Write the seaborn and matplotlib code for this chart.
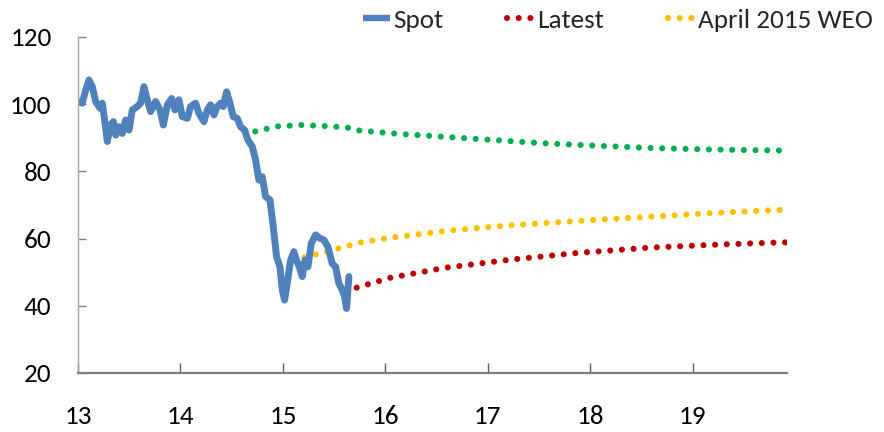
import matplotlib
matplotlib.use("Agg")
import matplotlib.pyplot as plt
from matplotlib import font_manager
import seaborn as sns
import pandas as pd
from matplotlib.lines import Line2D

# ---- data (x in two-digit years, fractional) ----
spot_x = [13.00, 13.042, 13.075, 13.107, 13.140, 13.172, 13.215, 13.237, 13.260, 13.286,
          13.319, 13.345, 13.368, 13.400, 13.433, 13.465, 13.498, 13.530, 13.579, 13.611,
          13.644, 13.676, 13.709, 13.758, 13.800, 13.833, 13.872, 13.914, 13.946, 13.985,
          14.018, 14.067, 14.099, 14.148, 14.180, 14.229, 14.262, 14.294, 14.327, 14.359,
          14.392, 14.418, 14.450, 14.483, 14.515, 14.554, 14.587, 14.626, 14.659, 14.701,
          14.733, 14.766, 14.798, 14.831, 14.873, 14.906, 14.938, 14.971, 14.994, 15.016,
          15.042, 15.075, 15.107, 15.133, 15.159, 15.189, 15.215, 15.244, 15.277, 15.319,
          15.361, 15.400, 15.439, 15.481, 15.514, 15.546, 15.579, 15.602, 15.621, 15.634,
          15.644]
spot_y = [100.8, 100.3, 104.2, 107.2, 105.2, 100.8, 98.8, 100.3, 95.3, 88.9,
          93.8, 94.8, 90.8, 93.3, 91.3, 95.3, 92.3, 98.3, 99.3, 100.3,
          105.2, 101.3, 97.8, 100.8, 98.3, 93.8, 99.8, 101.7, 98.3, 101.3,
          96.3, 95.8, 99.3, 100.3, 97.3, 94.8, 98.3, 99.8, 96.8, 99.3,
          100.3, 99.3, 103.7, 100.3, 96.3, 95.8, 93.3, 92.3, 89.3, 87.4,
          83.4, 77.4, 78.4, 72.5, 71.5, 63.5, 54.6, 51.6, 44.7, 41.7,
          46.7, 53.6, 56.1, 53.6, 51.6, 48.7, 53.6, 51.6, 58.6, 61.1,
          60.1, 59.6, 57.6, 52.6, 51.6, 46.7, 44.7, 42.7, 39.2, 44.7,
          48.7]

green_x = [14.73, 14.95, 15.18, 15.40, 15.62, 15.74, 16.07, 16.52, 16.97, 17.53,
           18.09, 18.65, 19.21, 19.92]
green_y = [91.9, 93.4, 93.8, 93.5, 93.1, 92.2, 91.3, 90.4, 89.5, 88.4,
           87.6, 86.9, 86.5, 86.2]

latest_x = [15.72, 16.04, 16.58, 17.24, 17.90, 18.57, 19.23, 19.79, 19.92]
latest_y = [45.4, 48.3, 51.3, 53.8, 55.8, 57.3, 58.2, 58.8, 58.9]

weo_x = [15.21, 15.42, 15.53, 15.75, 16.08, 16.63, 17.19, 17.85, 18.52, 19.18, 19.74, 19.92]
weo_y = [54.4, 56.1, 57.0, 58.8, 60.4, 62.4, 63.9, 65.2, 66.4, 67.6, 68.4, 68.6]

x_ticks = [13, 14, 15, 16, 17, 18, 19]
y_ticks = [20, 40, 60, 80, 100, 120]
labels = ["Spot", "Latest", "April 2015 WEO"]

# ---- style ----
sns.set_theme(style="white")
available = {f.name for f in font_manager.fontManager.ttflist}
narrow = None
for cand in ["Liberation Sans Narrow", "Carlito", "Roboto Condensed", "Open Sans Condensed"]:
    if cand in available:
        narrow = cand
        break
if narrow is not None:
    plt.rcParams["font.family"] = [narrow, "DejaVu Sans"]
    FS = 19.5
else:
    plt.rcParams["font.family"] = ["Liberation Sans", "DejaVu Sans"]
    FS = 17.5

BLUE = "#4F81BD"
GREEN = "#00B050"
RED = "#C00000"
YELLOW = "#FFC000"

fig = plt.figure(figsize=(8.84, 4.32), dpi=100)
ax = fig.add_axes([78 / 884, 1 - 373 / 432, (787 - 78) / 884, (373 - 37) / 432])

DOT_LW = 4.4
dot_style = (0, (0.01, 1.9))

def dotted(xs, ys, color):
    df = pd.DataFrame({"x": xs, "y": ys})
    sns.lineplot(data=df, x="x", y="y", ax=ax, color=color, linewidth=DOT_LW,
                 sort=False, estimator=None, legend=False)
    ln = ax.lines[-1]
    ln.set_linestyle(dot_style)
    ln.set_dash_capstyle("round")
    return ln

dotted(green_x, green_y, GREEN)
dotted(weo_x, weo_y, YELLOW)
dotted(latest_x, latest_y, RED)

spot_df = pd.DataFrame({"x": spot_x, "y": spot_y})
sns.lineplot(data=spot_df, x="x", y="y", ax=ax, color=BLUE, linewidth=5.0,
             sort=False, estimator=None, legend=False)
ax.lines[-1].set_solid_joinstyle("round")
ax.lines[-1].set_solid_capstyle("round")

ax.set_xlim(13, 19.92)
ax.set_ylim(20, 120)
ax.set_xticks(x_ticks)
ax.set_xticklabels([str(t) for t in x_ticks])
ax.set_yticks(y_ticks)
ax.set_yticklabels([str(t) for t in y_ticks])
ax.set_xlabel("")
ax.set_ylabel("")

for s in ["top", "right"]:
    ax.spines[s].set_visible(False)
ax.spines["left"].set_color("#A6A6A6")
ax.spines["left"].set_linewidth(1.0)
ax.spines["bottom"].set_color("#7F7F7F")
ax.spines["bottom"].set_linewidth(1.6)

ax.tick_params(axis="x", direction="in", length=7.5, width=1.0, color="#595959",
               labelsize=FS, pad=23, labelcolor="black", bottom=True)
ax.tick_params(axis="y", direction="in", length=6, width=1.0, color="#808080",
               labelsize=FS, pad=19, labelcolor="black", left=True)
ax.grid(False)

handles = [
    Line2D([], [], color=BLUE, linewidth=4.6, solid_capstyle="butt"),
    Line2D([], [], color=RED, linewidth=DOT_LW, linestyle=dot_style, dash_capstyle="round"),
    Line2D([], [], color=YELLOW, linewidth=DOT_LW, linestyle=dot_style, dash_capstyle="round"),
]
hl_pts = 19.4
fig.legend(handles, labels, loc="center left", bbox_to_anchor=(363 / 884, 1 - 20 / 432),
           ncol=3, frameon=False, fontsize=FS, handlelength=hl_pts / FS,
           handletextpad=2.4 / FS, columnspacing=46 / FS, borderpad=0, borderaxespad=0)

fig.savefig("out.png", dpi=100)
